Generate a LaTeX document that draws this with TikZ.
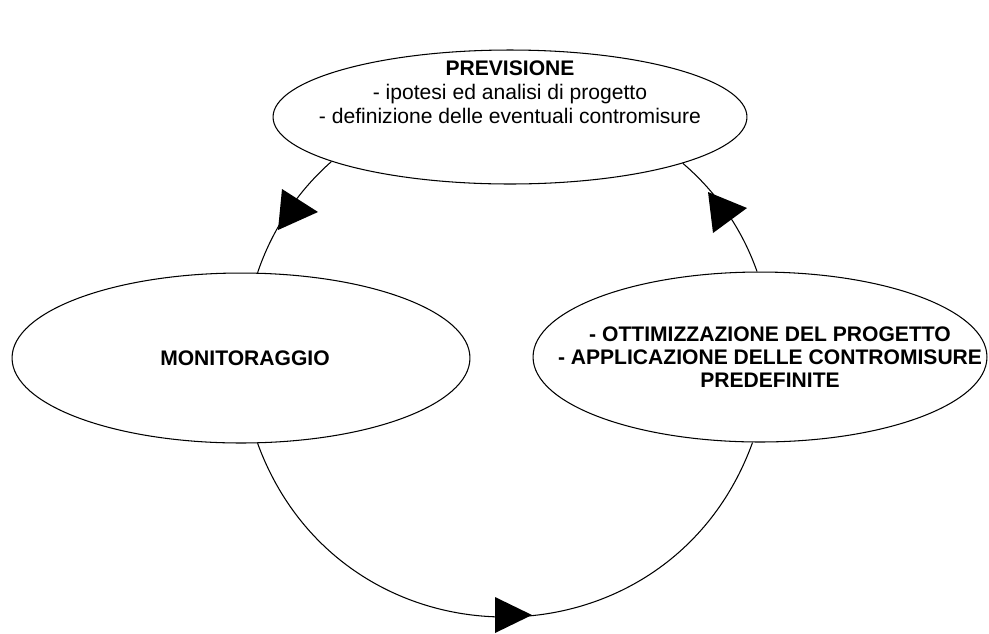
\documentclass[tikz,border=0pt]{standalone}
\usepackage{fontspec}
\setmainfont{Liberation Sans}
\usetikzlibrary{shapes.geometric}

\begin{document}
\begin{tikzpicture}[x=0.02cm,y=-0.02cm,line width=0.6pt,
	stage node/.style={ellipse, draw, fill=white, inner sep=0pt},
	stage text/.style={align=center, font=\fontsize{12}{13.2}\selectfont},
	cycle edge/.style={draw, line width=0.6pt}]
	\useasboundingbox (0,0) rectangle (989,633);
	
	% Nodes
	\node[stage node, minimum width=9.48cm, minimum height=2.68cm] (prev) at (510,117) {};
	\node[stage node, minimum width=9.16cm, minimum height=3.4cm] (monit) at (241,358) {};
	\node[stage node, minimum width=9.08cm, minimum height=3.4cm] (optim) at (760,357) {};
	
	\node[stage text, font=\fontsize{12}{13.7}\selectfont] (prevtext) at (510,92) {\textbf{PREVISIONE}\\- ipotesi ed analisi di progetto\\- definizione delle eventuali contromisure};
	\node[stage text] (monittext) at (245,358) {\textbf{MONITORAGGIO}};
	\node[stage text] (optimtext) at (770,357) {\textbf{- OTTIMIZZAZIONE DEL PROGETTO}\\\textbf{- APPLICAZIONE DELLE CONTROMISURE}\\\textbf{PREDEFINITE}};
	
	% Connectors
	\path
	(prev.194) edge[cycle edge, bend right=15, looseness=0.87] (monit.79)
	(monit.281) edge[cycle edge, bend right=70, looseness=1.28] (optim.265)
	(optim.92) edge[cycle edge, bend right=15, looseness=0.87] (prev.345);
	
	% Arrow marks
	\fill (282,189) -- (318,212) -- (278,230) -- cycle;
	\fill (708,192) -- (747,208) -- (713,233) -- cycle;
	\fill (495,597) -- (532,615) -- (495,633) -- cycle;
	
\end{tikzpicture}
\end{document}
